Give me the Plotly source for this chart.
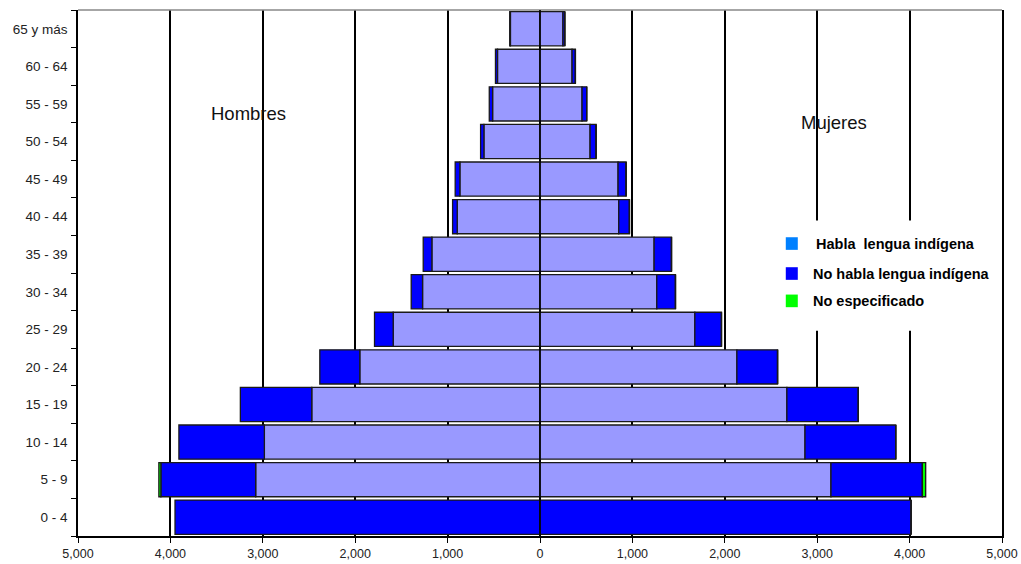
import plotly.graph_objects as go

age_groups = ["0 - 4", "5 - 9", "10 - 14", "15 - 19", "20 - 24", "25 - 29", "30 - 34",
              "35 - 39", "40 - 44", "45 - 49", "50 - 54", "55 - 59", "60 - 64", "65 y más"]

# Hombres (men)
men_habla = [0, 3077, 2983, 2470, 1950, 1589, 1271, 1170, 896, 867, 607, 513, 460, 320]
men_no_habla = [3950, 1026, 925, 773, 433, 202, 123, 94, 50, 51, 36, 36, 22, 8]
men_no_esp = [0, 22, 0, 0, 0, 0, 0, 0, 0, 0, 0, 0, 0, 0]

# Mujeres (women)
women_habla = [0, 3149, 2868, 2672, 2131, 1676, 1264, 1235, 852, 845, 542, 455, 347, 248]
women_no_habla = [4016, 989, 982, 773, 440, 288, 202, 188, 116, 87, 65, 50, 36, 20]
women_no_esp = [0, 36, 0, 0, 0, 0, 0, 0, 0, 0, 0, 0, 0, 0]

x_tick_vals = [-5000, -4000, -3000, -2000, -1000, 0, 1000, 2000, 3000, 4000, 5000]
x_tick_text = ["5,000", "4,000", "3,000", "2,000", "1,000", "0", "1,000", "2,000", "3,000", "4,000", "5,000"]

legend_labels = ["Habla  lengua indígena", "No habla lengua indígena", "No especificado"]
legend_colors = ["#0080FF", "#0000FF", "#00FF00"]

bar_colors = ["#9999FF", "#0000FF", "#00FF00"]
outline = dict(color="#1a1a1a", width=1.3)

fig = go.Figure()
series = [
    (men_habla, women_habla, bar_colors[0]),
    (men_no_habla, women_no_habla, bar_colors[1]),
    (men_no_esp, women_no_esp, bar_colors[2]),
]
for m, w, c in series:
    fig.add_trace(go.Bar(y=age_groups, x=[-v for v in m], orientation="h",
                         marker=dict(color=c, line=outline), showlegend=False))
    fig.add_trace(go.Bar(y=age_groups, x=w, orientation="h",
                         marker=dict(color=c, line=outline), showlegend=False))

fig.update_layout(
    width=1021, height=564,
    margin=dict(l=78, r=19, t=10, b=28, autoexpand=False),
    barmode="relative",
    bargap=0.09,
    plot_bgcolor="white",
    paper_bgcolor="white",
    font=dict(family="Liberation Sans, Arial, sans-serif", size=12, color="#222222"),
    xaxis=dict(range=[-5000, 5000], tickvals=x_tick_vals, ticktext=x_tick_text,
               showgrid=True, gridcolor="black", gridwidth=1.5, zeroline=False,
               showline=True, linecolor="black", linewidth=1.5, automargin=False,
               ticks="outside", ticklen=5, tickcolor="black",
               tickfont=dict(size=12.5)),
    yaxis=dict(categoryorder="array", categoryarray=age_groups, automargin=False,
               showgrid=False, showline=True, linecolor="black", linewidth=1.5,
               mirror=True, ticks="outside", ticklen=5, tickcolor="black",
               tickson="boundaries", tickfont=dict(size=13.5), ticklabelstandoff=6),
)

# top frame line
fig.add_shape(type="line", xref="paper", yref="paper", x0=0, x1=1, y0=1, y1=1,
              line=dict(color="#888888", width=1.5), layer="above")
# zero line on top of the bars
fig.add_shape(type="line", xref="x", yref="paper", x0=0, x1=0, y0=0, y1=1,
              line=dict(color="black", width=1.5), layer="above")

# legend box (white background that interrupts the grid lines)
fig.add_shape(type="rect", xref="paper", yref="paper", x0=0.748, x1=0.985, y0=0.39, y1=0.60,
              fillcolor="white", line=dict(width=0), layer="above")
leg_y = [0.556, 0.499, 0.447]
leg_x = [0.797, 0.793, 0.793]
for lab, col, yy, xx in zip(legend_labels, legend_colors, leg_y, leg_x):
    fig.add_shape(type="rect", xref="paper", yref="paper",
                  x0=0.766, x1=0.779, y0=yy - 0.012, y1=yy + 0.012,
                  fillcolor=col, line=dict(width=0), layer="above")
    fig.add_annotation(xref="paper", yref="paper", x=xx, y=yy, text="<b>" + lab + "</b>",
                       showarrow=False, xanchor="left", yanchor="middle",
                       font=dict(size=14.5, color="black"))

fig.add_annotation(xref="x", yref="paper", x=-3150, y=0.804, text="Hombres", showarrow=False,
                   xanchor="center", yanchor="middle", font=dict(size=18.5, color="#111111"))
fig.add_annotation(xref="x", yref="paper", x=3180, y=0.787, text="Mujeres", showarrow=False,
                   xanchor="center", yanchor="middle", font=dict(size=18.5, color="#111111"))

fig.write_html("out.html", config={"displayModeBar": False},
               post_script="document.body.style.margin='0';")
